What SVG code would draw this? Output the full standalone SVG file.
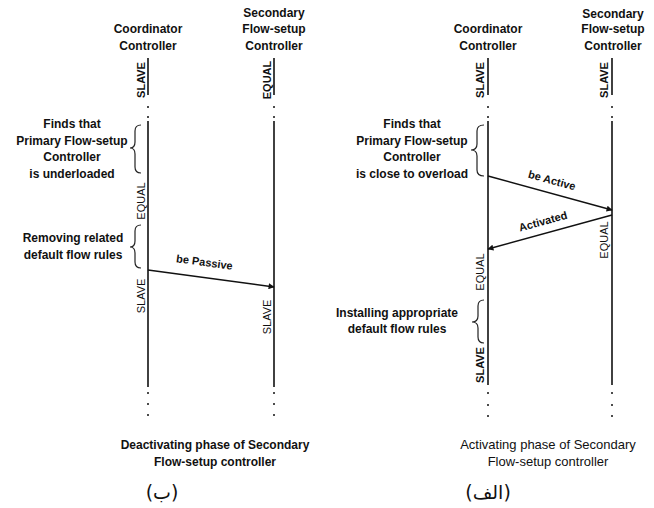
<svg xmlns="http://www.w3.org/2000/svg" width="654" height="508" viewBox="0 0 654 508">
  <style>
    text { font-family: "Liberation Sans", Arial, sans-serif; fill: #111; }
    .hdr { font-size: 12px; font-weight: bold; text-anchor: middle; }
    .note { font-size: 12px; font-weight: bold; text-anchor: middle; }
    .state { font-size: 11px; text-anchor: middle; }
    .stateb { font-size: 11px; font-weight: bold; text-anchor: middle; }
    .msg { font-size: 11px; font-weight: bold; text-anchor: middle; }
    .cap { font-size: 13px; text-anchor: middle; }
    .capb { font-size: 12px; font-weight: bold; text-anchor: middle; }
    .ar { font-family: "DejaVu Sans", sans-serif; font-size: 19px; text-anchor: middle; }
    .life { stroke: #111; stroke-width: 1.6; fill: none; }
    .brace { stroke: #222; stroke-width: 1.2; fill: none; }
    .arrow { stroke: #111; stroke-width: 1.4; fill: none; marker-end: url(#head); }
    .dot { fill: #111; }
  </style>
  <defs>
    <marker id="head" viewBox="0 0 10 10" refX="9" refY="5" markerWidth="7" markerHeight="6" orient="auto" markerUnits="userSpaceOnUse">
      <path d="M0,0 L10,5 L0,10 Z" fill="#111"/>
    </marker>
  </defs>

  <!-- Deactivating phase (left) -->
  <g id="coord-left">
    <text class="hdr" x="148" y="33">Coordinator</text>
    <text class="hdr" x="148" y="50">Controller</text>
    <line class="life" x1="148" y1="58" x2="148" y2="95"/>
    <circle class="dot" cx="148" cy="107" r="1"/>
    <circle class="dot" cx="148" cy="117" r="1"/>
    <line class="life" x1="148" y1="121" x2="148" y2="387"/>
    <circle class="dot" cx="148" cy="393" r="1"/>
    <circle class="dot" cx="148" cy="404" r="1"/>
    <circle class="dot" cx="148" cy="415" r="1"/>
    <text class="stateb" transform="translate(145,80) rotate(-90)">SLAVE</text>
    <text class="state" transform="translate(145,201) rotate(-90)">EQUAL</text>
    <text class="state" transform="translate(145,296) rotate(-90)">SLAVE</text>
  </g>
  <g id="second-left">
    <text class="hdr" x="274" y="17">Secondary</text>
    <text class="hdr" x="274" y="33">Flow-setup</text>
    <text class="hdr" x="274" y="50">Controller</text>
    <line class="life" x1="274" y1="58" x2="274" y2="95"/>
    <circle class="dot" cx="274" cy="107" r="1"/>
    <circle class="dot" cx="274" cy="117" r="1"/>
    <line class="life" x1="274" y1="121" x2="274" y2="387"/>
    <circle class="dot" cx="274" cy="393" r="1"/>
    <circle class="dot" cx="274" cy="404" r="1"/>
    <circle class="dot" cx="274" cy="415" r="1"/>
    <text class="stateb" transform="translate(271,80) rotate(-90)">EQUAL</text>
    <text class="state" transform="translate(271,317) rotate(-90)">SLAVE</text>
  </g>
  <g id="note-left-1">
    <path class="brace" d="M141,125 Q135,125 135,131 L135,142 Q135,148 130,148 Q135,148 135,154 L135,167 Q135,173 141,173"/>
    <text class="note" x="72" y="128">Finds that</text>
    <text class="note" x="72" y="145">Primary Flow-setup</text>
    <text class="note" x="72" y="161">Controller</text>
    <text class="note" x="72" y="178">is underloaded</text>
  </g>
  <g id="note-left-2">
    <path class="brace" d="M141,225 Q135,225 135,231 L135,241 Q135,247 130,247 Q135,247 135,253 L135,262 Q135,268 141,268"/>
    <text class="note" x="73" y="242">Removing related</text>
    <text class="note" x="73" y="259">default flow rules</text>
  </g>
  <g id="caption-left">
    <text class="capb" x="215" y="449">Deactivating phase of Secondary</text>
    <text class="capb" x="215" y="466">Flow-setup controller</text>
    <text class="ar" x="162" y="499">(ب)</text>
  </g>

  <!-- Activating phase (right) -->
  <g id="coord-right">
    <text class="hdr" x="488" y="33">Coordinator</text>
    <text class="hdr" x="488" y="50">Controller</text>
    <line class="life" x1="488" y1="58" x2="488" y2="95"/>
    <circle class="dot" cx="488" cy="107" r="1"/>
    <circle class="dot" cx="488" cy="117" r="1"/>
    <line class="life" x1="488" y1="121" x2="488" y2="385"/>
    <circle class="dot" cx="488" cy="393" r="1"/>
    <circle class="dot" cx="488" cy="405" r="1"/>
    <circle class="dot" cx="488" cy="416" r="1"/>
    <text class="stateb" transform="translate(484,80) rotate(-90)">SLAVE</text>
    <text class="state" transform="translate(484,272) rotate(-90)">EQUAL</text>
    <text class="stateb" transform="translate(484,365) rotate(-90)">SLAVE</text>
  </g>
  <g id="second-right">
    <text class="hdr" x="613" y="18">Secondary</text>
    <text class="hdr" x="613" y="33">Flow-setup</text>
    <text class="hdr" x="613" y="50">Controller</text>
    <line class="life" x1="612" y1="58" x2="612" y2="95"/>
    <circle class="dot" cx="612" cy="107" r="1"/>
    <circle class="dot" cx="612" cy="117" r="1"/>
    <line class="life" x1="612" y1="121" x2="612" y2="385"/>
    <circle class="dot" cx="612" cy="393" r="1"/>
    <circle class="dot" cx="612" cy="405" r="1"/>
    <circle class="dot" cx="612" cy="416" r="1"/>
    <text class="stateb" transform="translate(608,80) rotate(-90)">SLAVE</text>
    <text class="state" transform="translate(608,240) rotate(-90)">EQUAL</text>
  </g>
  <g id="note-right-1">
    <path class="brace" d="M484,125 Q477,125 477,131 L477,144 Q477,150 471,150 Q477,150 477,156 L477,170 Q477,176 484,176"/>
    <text class="note" x="412" y="128">Finds that</text>
    <text class="note" x="412" y="145">Primary Flow-setup</text>
    <text class="note" x="412" y="161">Controller</text>
    <text class="note" x="412" y="178">is close to overload</text>
  </g>
  <g id="note-right-2">
    <path class="brace" d="M484,300 Q478,300 478,306 L478,316 Q478,322 472,322 Q478,322 478,328 L478,337 Q478,343 484,343"/>
    <text class="note" x="397" y="317">Installing appropriate</text>
    <text class="note" x="397" y="333">default flow rules</text>
  </g>
  <g id="caption-right">
    <text class="cap" x="548" y="449">Activating phase of Secondary</text>
    <text class="cap" x="548" y="466">Flow-setup controller</text>
    <text class="ar" x="488" y="499">(الف)</text>
  </g>

  <!-- messages -->
  <g id="connectors">
    <line class="arrow" x1="148" y1="270" x2="274" y2="287"/>
    <text class="msg" transform="translate(204,266) rotate(7.7)">be Passive</text>
    <line class="arrow" x1="488" y1="176" x2="612" y2="210"/>
    <text class="msg" transform="translate(551,184) rotate(15.3)">be Active</text>
    <line class="arrow" x1="612" y1="215" x2="488" y2="249"/>
    <text class="msg" transform="translate(544,225) rotate(-15.3)">Activated</text>
  </g>
</svg>
